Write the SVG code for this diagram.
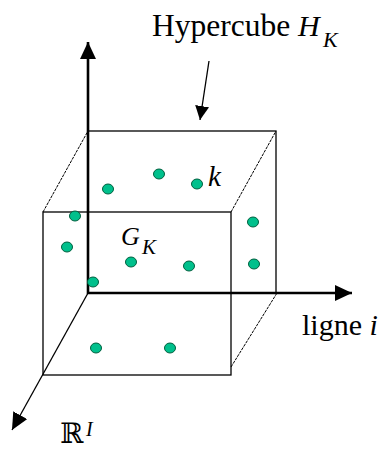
<svg xmlns="http://www.w3.org/2000/svg" width="382" height="451" viewBox="0 0 382 451">
<style>
.edge{stroke:#000;stroke-width:1.3;fill:none}
.dash{stroke:#000;stroke-width:1;fill:none;stroke-dasharray:3 1}
.axis{stroke:#000;stroke-width:2.6;fill:none}
.dot{fill:#00c08c;stroke:#00603f;stroke-width:1}
.t{font-family:"Liberation Serif",serif;fill:#000}
.i{font-family:"Liberation Serif",serif;font-style:italic;fill:#000}
</style>
<defs>
<marker id="ah" markerUnits="userSpaceOnUse" markerWidth="18" markerHeight="16" refX="17" refY="8" orient="auto">
<path d="M0,0 L17,8 L0,16 z" fill="#000"/>
</marker>
<marker id="ahs" markerUnits="userSpaceOnUse" markerWidth="15" markerHeight="14" refX="14" refY="7" orient="auto">
<path d="M0,0 L14,7 L0,14 z" fill="#000"/>
</marker>
</defs>
<g id="cube">
<rect class="edge" x="88" y="131" width="188" height="162"/>
<rect class="edge" x="43" y="212" width="188" height="163"/>
<line class="dash" x1="43" y1="212" x2="88" y2="131"/>
<line class="dash" x1="231" y1="212" x2="276" y2="131"/>
<line class="dash" x1="231" y1="367" x2="277" y2="293"/>
</g>
<g id="connectors">
<line class="axis" x1="88" y1="294" x2="88" y2="42" marker-end="url(#ah)"/>
<line class="axis" x1="87" y1="293" x2="352" y2="293" marker-end="url(#ah)"/>
<line class="edge" stroke-width="1.6" x1="88" y1="293" x2="12" y2="430" marker-end="url(#ah)"/>
<line class="edge" x1="209" y1="61" x2="200" y2="120" marker-end="url(#ahs)"/>
</g>
<g id="points">
<ellipse class="dot" cx="108" cy="189" rx="5.5" ry="5"/>
<ellipse class="dot" cx="159" cy="174" rx="5.5" ry="5"/>
<ellipse class="dot" cx="197" cy="184" rx="5.5" ry="5"/>
<ellipse class="dot" cx="75" cy="216" rx="5.5" ry="5"/>
<ellipse class="dot" cx="253" cy="222" rx="5.5" ry="5"/>
<ellipse class="dot" cx="67" cy="247" rx="5.5" ry="5"/>
<ellipse class="dot" cx="131" cy="262" rx="5.5" ry="5"/>
<ellipse class="dot" cx="189" cy="266" rx="5.5" ry="5"/>
<ellipse class="dot" cx="254" cy="264" rx="5.5" ry="5"/>
<ellipse class="dot" cx="93" cy="282" rx="5.5" ry="5"/>
<ellipse class="dot" cx="96" cy="348" rx="5.5" ry="5"/>
<ellipse class="dot" cx="170" cy="348" rx="5.5" ry="5"/>
</g>
<g id="labels">
<text class="t" x="152" y="36" font-size="31.5">Hypercube</text>
<text class="i" x="298" y="36" font-size="30">H</text>
<text class="i" x="323" y="47" font-size="22">K</text>
<text class="i" x="208" y="186" font-size="29">k</text>
<text class="i" x="121" y="245" font-size="26">G</text>
<text class="i" x="142" y="254" font-size="21">K</text>
<text class="t" x="302" y="335" font-size="30">ligne <tspan class="i">i</tspan></text>
<text x="60" y="443" font-size="28" font-family="'DejaVu Serif',serif">ℝ</text>
<text class="i" x="86" y="436" font-size="20">I</text>
</g>
</svg>
